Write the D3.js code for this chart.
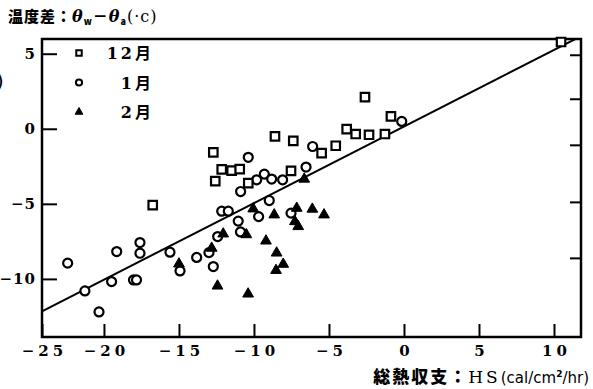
<!DOCTYPE html>
<html>
<head>
<meta charset="utf-8">
<script src="https://cdn.jsdelivr.net/npm/d3@7"></script>
<style>
  body { margin: 0; background: #fff; }
  svg { display: block; }
  .tick text { font-family: "DejaVu Serif", serif; font-weight: bold; }
</style>
</head>
<body>
<div id="chart"></div>
<script>
// December: [HS, temperature difference]
var dec = [
    [-12.71, -1.57], [-12.15, -2.71], [-11.49, -2.79], [-10.95, -2.69], [-12.58, -3.49],
    [-16.75, -5.09], [-10.38, -3.62], [-8.6, -0.51], [-7.38, -0.8], [-7.53, -2.8],
    [-5.49, -1.62], [-4.55, -1.13], [-3.82, -0.02], [-3.22, -0.35], [-2.33, -0.4],
    [-1.27, -0.35], [-2.6, 2.11], [-0.87, 0.82], [10.47, 5.78]
];
var jan = [
    [-22.42, -8.95], [-21.27, -10.8], [-20.33, -12.2], [-19.49, -10.18], [-19.15, -8.18],
    [-18.03, -10.07], [-17.83, -10.07], [-17.6, -7.58], [-17.6, -8.29], [-15.6, -8.22],
    [-14.93, -9.47], [-13.82, -8.57], [-13.0, -8.25], [-12.71, -9.18], [-12.42, -7.18],
    [-12.15, -5.49], [-11.71, -5.49], [-11.05, -6.15], [-10.9, -6.87], [-10.38, -1.9],
    [-10.89, -4.18], [-9.82, -3.4], [-9.31, -3.02], [-8.82, -3.35], [-8.09, -3.4],
    [-6.09, -1.18], [-6.53, -2.55], [-8.98, -4.78], [-9.69, -5.85], [-7.53, -5.62],
    [-0.15, 0.49]
];
var feb = [
    [-15.0, -9.0], [-12.82, -7.95], [-12.43, -10.47], [-12.05, -7.0], [-10.51, -7.05],
    [-10.39, -11.0], [-10.05, -5.33], [-9.2, -7.47], [-8.65, -5.73], [-8.49, -8.27],
    [-8.05, -9.02], [-8.53, -9.43], [-6.65, -3.35], [-7.15, -5.29], [-6.11, -5.35],
    [-5.33, -5.73], [-7.27, -6.18], [-7.05, -6.51]
];
var legendLabels = ["12月", "1月", "2月"];
var xTicks = [-25, -20, -15, -10, -5, 0, 5, 10];
var yTicks = [5, 0, -5, -10];
var rightTicks = [4.93, 2.0, -1.07, -4.87, -8.6];
// regression line  y = a + b*x
var fitA = 0.15, fitB = 0.51;

var width = 593, height = 389;
var margin = {top: 39, right: 12, bottom: 52, left: 42};
var w = width - margin.left - margin.right;
var h = height - margin.top - margin.bottom;

var x = d3.scaleLinear().domain([-24.13, 11.8]).range([0, w]).clamp(true);
var y = d3.scaleLinear().domain([-13.87, 5.98]).range([h, 0]);

function fmt(d) {
    return (d < 0 ? "\u2212" : "") + Math.abs(d);
}

var svg = d3.select("#chart").append("svg")
    .attr("width", width)
    .attr("height", height);

var g = svg.append("g")
    .attr("transform", "translate(" + margin.left + "," + margin.top + ")");

g.append("clipPath").attr("id", "clip")
    .append("rect").attr("width", w).attr("height", h);

// axes
var xAxis = d3.axisBottom(x).tickValues(xTicks).tickSize(-13).tickPadding(8).tickFormat(fmt);
var yAxis = d3.axisLeft(y).tickValues(yTicks).tickSize(-15).tickPadding(6).tickFormat(fmt);
var rAxis = d3.axisRight(y).tickValues(rightTicks).tickSize(-11).tickFormat("");

function tidy(sel) {
    sel.select(".domain").remove();
    sel.selectAll(".tick line").attr("stroke", "#000").attr("stroke-width", 2);
}

g.append("g")
    .attr("transform", "translate(0," + h + ")")
    .call(xAxis)
    .call(tidy)
    .selectAll("text")
    .style("font-size", "15px")
    .style("letter-spacing", "4px")
    .attr("dx", "2px")
    .attr("fill", "#000");

g.append("g")
    .call(yAxis)
    .call(tidy)
    .selectAll("text")
    .style("font-size", "15px")
    .style("letter-spacing", "1px")
    .attr("fill", "#000");

g.append("g")
    .attr("transform", "translate(" + w + ",0)")
    .call(rAxis)
    .call(tidy);

// frame
g.append("rect")
    .attr("width", w)
    .attr("height", h)
    .attr("fill", "none")
    .attr("stroke", "#000")
    .attr("stroke-width", 2.5);

// regression line
g.append("line")
    .attr("clip-path", "url(#clip)")
    .attr("x1", x(-24.13)).attr("y1", y(fitA + fitB * -24.13))
    .attr("x2", x(11.8)).attr("y2", y(fitA + fitB * 11.8))
    .attr("stroke", "#000")
    .attr("stroke-width", 2);

var sq = d3.symbol().type(d3.symbolSquare).size(72);
var ci = d3.symbol().type(d3.symbolCircle).size(64);
var tr = d3.symbol().type(d3.symbolTriangle).size(50);

g.append("g").selectAll("path")
    .data(jan).enter().append("path")
    .attr("d", ci)
    .attr("transform", function(d) { return "translate(" + x(d[0]) + "," + y(d[1]) + ")"; })
    .attr("fill", "#fff").attr("stroke", "#000").attr("stroke-width", 2.2);

g.append("g").selectAll("path")
    .data(dec).enter().append("path")
    .attr("d", sq)
    .attr("transform", function(d) { return "translate(" + x(d[0]) + "," + y(d[1]) + ")"; })
    .attr("fill", "#fff").attr("stroke", "#000").attr("stroke-width", 2.2);

g.append("g").selectAll("path")
    .data(feb).enter().append("path")
    .attr("d", tr)
    .attr("transform", function(d) { return "translate(" + x(d[0]) + "," + y(d[1]) + ")"; })
    .attr("fill", "#000").attr("stroke", "#000").attr("stroke-width", 1);

// legend
var legend = g.append("g").attr("transform", "translate(37,14)");
var legSyms = [
    d3.symbol().type(d3.symbolSquare).size(30),
    d3.symbol().type(d3.symbolCircle).size(30),
    d3.symbol().type(d3.symbolTriangle).size(26)
];
legendLabels.forEach(function(lab, i) {
    var row = legend.append("g").attr("transform", "translate(0," + (i * 29.5) + ")");
    row.append("path")
        .attr("d", legSyms[i])
        .attr("fill", i == 2 ? "#000" : "#fff")
        .attr("stroke", "#000")
        .attr("stroke-width", i == 2 ? 1 : 2);
    row.append("text")
        .attr("x", 75)
        .attr("y", 6)
        .attr("text-anchor", "end")
        .style("font-family", "'DejaVu Serif', 'Noto Sans CJK JP'")
        .style("font-weight", "bold")
        .style("font-size", "16px")
        .style("letter-spacing", "3px")
        .text(lab);
});

// titles
var title = svg.append("text")
    .attr("x", 8)
    .attr("y", 22)
    .style("font-family", "'Noto Sans CJK JP'")
    .style("font-weight", "900")
    .style("font-size", "15px")
    .style("letter-spacing", "1px");
title.append("tspan").text("温度差：");
title.append("tspan").style("font-family", "'DejaVu Serif'").style("font-style", "italic").style("font-weight", "bold").style("font-size", "16px").text("θ");
title.append("tspan").attr("dy", 3).style("font-size", "9px").text("w");
title.append("tspan").attr("dy", -3).text("－");
title.append("tspan").style("font-family", "'DejaVu Serif'").style("font-style", "italic").style("font-weight", "bold").style("font-size", "16px").text("θ");
title.append("tspan").attr("dy", 3).style("font-size", "9px").text("a");
title.append("tspan").attr("dy", -3).style("font-family", "'DejaVu Serif'").style("font-weight", "normal").style("font-size", "16px").text("(·c)");

var xlab = svg.append("text")
    .attr("x", 589)
    .attr("y", 383)
    .attr("text-anchor", "end")
    .style("font-family", "'Noto Sans CJK JP'")
    .style("font-weight", "900")
    .style("font-size", "17px");
xlab.append("tspan").style("letter-spacing", "2px").text("総熱収支：");
xlab.append("tspan").style("font-family", "'DejaVu Serif'").style("font-weight", "normal").style("letter-spacing", "3px").text("HS");
xlab.append("tspan").style("font-family", "'DejaVu Sans'").style("font-weight", "normal").style("font-size", "15px").text("(cal/cm");
xlab.append("tspan").attr("dy", -6).style("font-family", "'DejaVu Sans'").style("font-size", "9px").text("2");
xlab.append("tspan").attr("dy", 6).style("font-family", "'DejaVu Sans'").style("font-weight", "normal").style("font-size", "15px").text("/hr)");

// stray bracket from neighbouring figure
svg.append("text")
    .attr("x", -4)
    .attr("y", 88)
    .style("font-family", "'DejaVu Sans'")
    .style("font-size", "20px")
    .text(")");
</script>
</body>
</html>
